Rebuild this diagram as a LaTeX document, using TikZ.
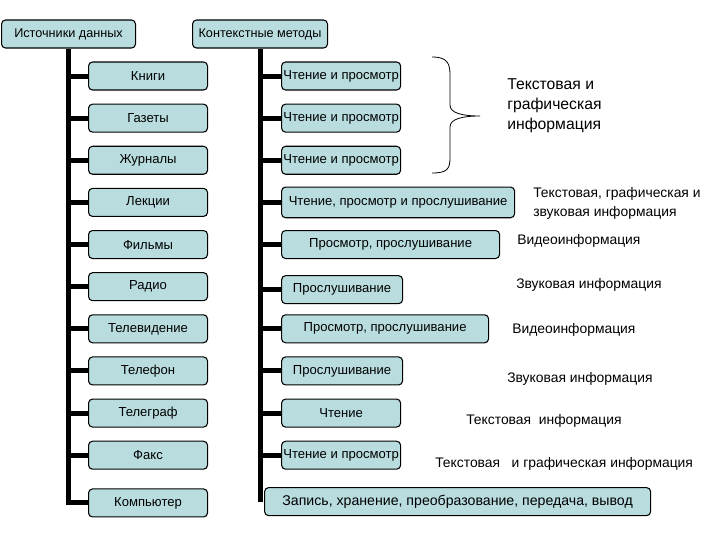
\documentclass[tikz,border=0pt]{standalone}
\usepackage{fontspec}
\setmainfont{Liberation Sans}
\usetikzlibrary{positioning}
\definecolor{caixa}{RGB}{185,221,223}

\begin{document}
\begin{tikzpicture}[x=0.75pt,y=-0.75pt,
        node distance=9.8pt,
        bloco/.style={draw,line width=0.8pt,fill=caixa,rounded corners=3pt,
                      minimum height=21pt,inner sep=1pt,font=\fontsize{9.8}{11}\selectfont},
        larg/.style={minimum width=#1*0.75pt},
        nota/.style={anchor=west,align=left,inner sep=0pt,font=\fontsize{10.4}{14.25}\selectfont},
        ramo/.style={line width=3.75pt}]
      \useasboundingbox (0,0) rectangle (720,540);
      % cabecalhos
      \node[bloco,larg=134,anchor=west,font=\fontsize{9.5}{11}\selectfont] (fontes) at (1,34) {Источники данных};
      \node[bloco,larg=135,anchor=west,font=\fontsize{9.5}{11}\selectfont] (metodos) at (192,34) {Контекстные методы};
      % fontes
      \node[bloco,larg=119,anchor=west] (livros) at (88,76) {Книги};
      \node[bloco,larg=119,below=of livros] (jornais) {Газеты};
      \node[bloco,larg=119,below=of jornais] (revistas) {Журналы};
      \node[bloco,larg=119,below=of revistas] (aulas) {Лекции};
      \node[bloco,larg=119,below=of aulas] (filmes) {Фильмы};
      \node[bloco,larg=119,below=of filmes] (radio) {Радио};
      \node[bloco,larg=119,below=of radio] (tv) {Телевидение};
      \node[bloco,larg=119,below=of tv] (fone) {Телефон};
      \node[bloco,larg=119,below=of fone] (telegrafo) {Телеграф};
      \node[bloco,larg=119,below=of telegrafo] (fax) {Факс};
      \node[bloco,larg=119,below=14pt of fax] (pc) {Компьютер};
      % metodos
      \node[bloco,larg=119,right=54.75pt of livros] (m1) {Чтение и просмотр};
      \node[bloco,larg=119,right=54.75pt of jornais] (m2) {Чтение и просмотр};
      \node[bloco,larg=119,right=54.75pt of revistas] (m3) {Чтение и просмотр};
      \node[bloco,larg=233,minimum height=23pt,right=54.75pt of aulas] (m4) {Чтение, просмотр и прослушивание};
      \node[bloco,larg=218,right=54.75pt of filmes] (m5) {Просмотр, прослушивание};
      \node[bloco,larg=121,right=54.75pt of radio,yshift=-2.25pt] (m6) {Прослушивание};
      \node[bloco,larg=207,right=54.75pt of tv] (m7) {Просмотр, прослушивание};
      \node[bloco,larg=121,right=54.75pt of fone] (m8) {Прослушивание};
      \node[bloco,larg=119,right=54.75pt of telegrafo] (m9) {Чтение};
      \node[bloco,larg=119,right=54.75pt of fax] (m10) {Чтение и просмотр};
      \node[bloco,larg=386,right=42pt of pc,yshift=1pt,font=\fontsize{10.6}{12}\selectfont] (zap) {Запись, хранение, преобразование, передача, вывод};
      % tipos de informacao
      \node[nota,font=\fontsize{11.8}{15}\selectfont] (i1) at (507,106) {Текстовая и\\графическая\\информация};
      \node[nota] (i4) at (533,203) {Текстовая, графическая и\\звуковая информация};
      \node[nota] (i5) at (517,241) {Видеоинформация};
      \node[nota] (i6) at (516,285) {Звуковая информация};
      \node[nota] (i7) at (512,330) {Видеоинформация};
      \node[nota] (i8) at (507,379) {Звуковая информация};
      \node[nota] (i9) at (466,421) {Текстовая\ \ информация};
      \node[nota] (i10) at (435,464) {Текстовая\ \ \ и графическая информация};
      % chave
      \draw[line width=0.6pt] (432,57) .. controls (447,57) and (450,63) .. (450,75) -- (450,105)
        .. controls (450,113) and (462,116) .. (480,116)
        .. controls (462,116) and (450,119) .. (450,127) -- (450,158)
        .. controls (450,169) and (447,173) .. (432,173);
      % ligacoes
      \draw[ramo] (fontes.south) |- (pc.west);
      \foreach \n in {livros,jornais,revistas,aulas,filmes,radio,tv,fone,telegrafo,fax}
        \draw[ramo] (fontes.south |- \n.west) -- (\n.west);
      \draw[ramo] (metodos.south) -- (metodos.south |- zap.west);
      \foreach \n in {m1,m2,m3,m4,m5,m6,m7,m8,m9,m10}
        \draw[ramo] (metodos.south |- \n.west) -- (\n.west);
    \end{tikzpicture}
\end{document}
